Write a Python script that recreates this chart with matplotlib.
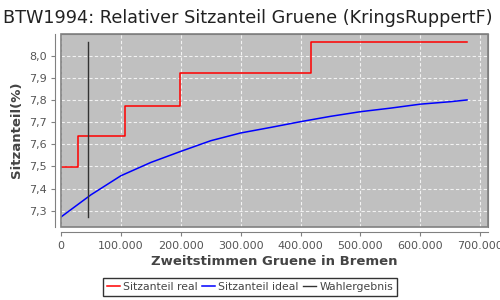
import matplotlib.pyplot as plt
from matplotlib.patches import Rectangle
from matplotlib.ticker import FuncFormatter

# Sitzanteil real (step function)
real_x = [0, 28300, 106700, 198000, 417700, 678000]
real_y = [7.499, 7.637, 7.773, 7.922, 8.062, 8.062]

# Sitzanteil ideal
ideal_x = [0, 50000, 100000, 150000, 200000, 250000, 300000, 350000, 400000,
           450000, 500000, 550000, 600000, 650000, 678000]
ideal_y = [7.272, 7.372, 7.458, 7.518, 7.568, 7.616, 7.651, 7.676, 7.702,
           7.726, 7.747, 7.763, 7.781, 7.792, 7.800]

# Wahlergebnis
wahl_x = [44400, 44400]
wahl_y = [7.27, 8.062]

fig = plt.figure(figsize=(5, 3), dpi=100)
ax = fig.add_axes([0.122, 0.245, 0.854, 0.642])
ax.set_facecolor('#c0c0c0')

l0, = ax.plot(real_x, real_y, color='red', lw=1.1, drawstyle='steps-post')
l1, = ax.plot(ideal_x, ideal_y, color='blue', lw=1.1)
l2, = ax.plot(wahl_x, wahl_y, color='#333333', lw=1)

ax.set_xlim(0, 713000)
ax.set_ylim(7.229, 8.098)
ax.set_xticks(range(0, 700001, 100000))
ax.set_yticks([7.3, 7.4, 7.5, 7.6, 7.7, 7.8, 7.9, 8.0])
ax.xaxis.set_major_formatter(FuncFormatter(lambda v, p: f'{int(v):,}'.replace(',', '.')))
ax.yaxis.set_major_formatter(FuncFormatter(lambda v, p: f'{v:.1f}'.replace('.', ',')))

ax.grid(True, color='white', ls=(0, (3, 2)), lw=0.8, alpha=0.8)
ax.set_axisbelow(True)

for s in ['top', 'right']:
    ax.spines[s].set_color('#808080')
for s in ['left', 'bottom']:
    ax.spines[s].set_color('#808080')
    ax.spines[s].set_position(('outward', 4))
ax.add_patch(Rectangle((0, 0), 1, 1, transform=ax.transAxes, fill=False,
                       edgecolor='#808080', lw=1.2, zorder=5, clip_on=False))

ax.tick_params(colors='#808080', labelcolor='#555555', labelsize=8, length=3)

ax.set_title('BTW1994: Relativer Sitzanteil Gruene (KringsRuppertF)',
             fontsize=12.7, color='#222222', loc='left', x=-0.136, pad=8)
ax.set_xlabel('Zweitstimmen Gruene in Bremen', fontsize=9.5, fontweight='bold', color='#444444', labelpad=3)
ax.set_ylabel('Sitzanteil(%)', fontsize=9.5, fontweight='bold', color='#444444', labelpad=4)

leg = fig.legend((l0, l1, l2), ('Sitzanteil real', 'Sitzanteil ideal', 'Wahlergebnis'),
                 loc='lower center', bbox_to_anchor=(0.5, 0.005), ncol=3, fontsize=7.8,
                 frameon=True, fancybox=False, handlelength=1.2, handletextpad=0.3,
                 columnspacing=0.4, borderpad=0.4, borderaxespad=0.2, labelcolor='#444444')
leg.get_frame().set_edgecolor('black')
leg.get_frame().set_linewidth(1)

fig.savefig('out.png', dpi=100)
